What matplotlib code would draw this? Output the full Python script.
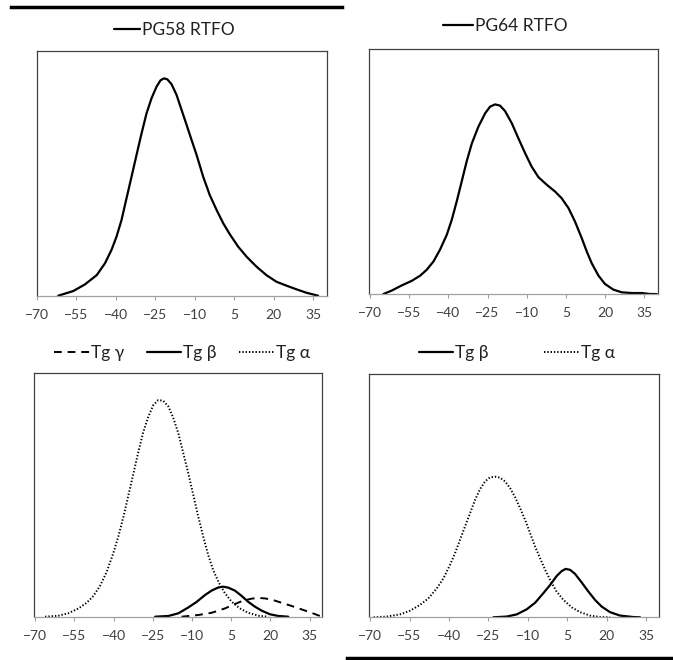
import numpy as np
from matplotlib import pyplot as plt
from matplotlib.lines import Line2D

plt.rcParams['font.family'] = ['Lato', 'DejaVu Sans']

# x ticks shared by every panel
ticks = [-70, -55, -40, -25, -10, 5, 20, 35]

# PG58 RTFO (top left), heights in % of plot height
pg58_x = [-61.8, -56.1, -51.7, -47.2, -44.1, -41.6, -39.7, -37.8, -35.9, -34.0,
          -32.1, -30.2, -28.3, -26.4, -24.5, -23.0, -21.7, -20.4, -18.8, -16.9,
          -15.0, -13.1, -11.2, -9.3, -6.8, -4.3, -1.7, 0.8, 3.3, 6.5,
          9.7, 13.4, 17.2, 21.0, 24.8, 28.6, 32.4, 36.8]
pg58_y = [0, 1.9, 4.6, 8.4, 13.2, 18.7, 24.1, 30.9, 39.8, 48.6,
          57.5, 66.3, 74.5, 80.7, 85.4, 88.0, 88.8, 88.4, 86.4, 82.0,
          75.9, 69.8, 63.6, 57.5, 48.6, 41.1, 35.0, 29.6, 25.1, 20.0,
          15.9, 11.9, 8.4, 5.7, 4.1, 2.6, 1.2, 0]

# PG64 RTFO (top right)
pg64_x = [-64.9, -61.7, -57.9, -54.0, -50.8, -48.3, -45.7, -43.2, -40.6, -38.7,
          -36.8, -34.9, -33.0, -31.0, -28.5, -25.9, -24.0, -22.1, -20.2, -18.3,
          -15.7, -13.2, -10.6, -8.1, -5.5, -2.3, 0.9, 3.4, 6.0, 8.5,
          11.1, 13.0, 14.9, 17.5, 20.0, 23.2, 26.4, 30.3, 34.1, 37.3, 39.8]
pg64_y = [0, 1.4, 3.5, 5.4, 7.5, 9.9, 13.3, 18.1, 24.2, 30.3,
          37.8, 45.9, 54.1, 61.5, 68.3, 73.8, 76.5, 77.4, 76.9, 74.7,
          69.7, 63.6, 57.5, 52.0, 47.7, 44.6, 41.8, 39.1, 35.1, 29.6,
          22.8, 17.4, 12.6, 7.5, 4.1, 1.8, 0.7, 0.4, 0.4, 0, 0]

# PG58 deconvolution (bottom left)
a58_x = [-66.2, -61.1, -57.3, -53.4, -50.3, -47.7, -45.2, -42.6, -40.1, -38.2,
         -36.2, -34.3, -32.4, -30.5, -28.6, -26.7, -24.8, -22.9, -21.0, -19.0,
         -17.1, -15.2, -13.3, -11.4, -9.5, -7.6, -5.7, -3.8, -1.9, 0.1,
         2.6, 5.2, 8.3, 11.5, 15.4, 19.2]
a58_y = [0, 0.4, 1.4, 3.4, 5.7, 8.5, 12.6, 18.4, 26.0, 32.8,
         41.0, 49.9, 58.7, 67.6, 75.8, 82.0, 86.7, 88.8, 88.5, 86.1,
         81.3, 75.1, 66.9, 58.7, 49.9, 41.0, 32.8, 25.3, 19.1, 14.3,
         9.6, 6.1, 3.4, 1.6, 0.4, 0]
b58_x = [-24.1, -19.0, -15.2, -11.4, -8.2, -5.0, -2.5, 0.1, 2.0, 3.9,
         6.4, 9.0, 11.5, 14.1, 16.6, 19.8, 23.0, 26.8]
b58_y = [0, 0.3, 1.4, 3.8, 6.1, 8.9, 10.7, 12.0, 12.3, 11.9,
         10.7, 8.5, 6.1, 4.1, 2.5, 1.0, 0.3, 0]
g58_x = [-14.0, -7.6, -2.5, 2.6, 6.4, 9.6, 12.8, 15.4, 17.9, 21.1,
         24.3, 28.1, 31.9, 35.7, 38.9]
g58_y = [0, 0.7, 1.6, 3.4, 5.2, 6.6, 7.4, 7.7, 7.5, 6.8,
         5.7, 4.4, 3.0, 1.6, 0.3]

# PG64 deconvolution (bottom right)
a64_x = [-68.7, -63.7, -58.6, -54.8, -51.0, -47.8, -44.6, -42.1, -39.6, -37.7,
         -35.8, -33.9, -32.0, -30.1, -28.2, -26.3, -24.4, -22.5, -20.6, -18.6,
         -16.7, -14.8, -12.9, -11.0, -9.1, -7.2, -5.3, -3.4, -1.5, 1.0,
         3.6, 6.7, 9.9, 13.7, 17.5, 21.3]
a64_y = [0, 0.3, 1.2, 2.7, 5.1, 7.8, 11.9, 16.0, 21.5, 26.3,
         31.8, 37.3, 42.7, 48.2, 52.6, 55.8, 57.5, 57.8, 57.4, 55.8,
         53.0, 49.3, 44.8, 40.0, 34.5, 29.0, 24.2, 19.5, 15.3, 10.5,
         7.1, 4.1, 2.1, 0.7, 0.1, 0]
b64_x = [-23.1, -18.0, -14.2, -10.4, -7.2, -4.1, -1.5, 1.0, 2.9, 4.4,
         6.1, 8.0, 10.5, 13.1, 15.6, 18.1, 21.3, 25.1, 30.2, 32.7]
b64_y = [0, 0.3, 1.2, 3.3, 6.0, 9.9, 13.3, 17.0, 19.0, 19.9,
         19.5, 17.8, 14.3, 10.5, 7.1, 4.4, 2.1, 0.7, 0.1, 0]

dotted = (0, (0.7, 1.0))
dashed = (0, (4, 3))

fig = plt.figure(figsize=(6.73, 6.60), dpi=100)

def setup(ax, xmax, xmin=-70):
    ax.set_xlim(xmin, xmax)
    ax.set_ylim(0, 100)
    ax.set_yticks([])
    ax.set_xticks(ticks)
    ax.tick_params(axis='x', direction='out', length=3, width=0.8,
                   color='#a0a0a0', labelcolor='#404040', labelsize=10, pad=6.5)
    for s in ax.spines.values():
        s.set_color('#404040')
        s.set_linewidth(0.9)
    ax.spines['bottom'].set_color('#a0a0a0')

kw = dict(color='black', lw=1.6, solid_joinstyle='round', solid_capstyle='round')
kd = dict(color='black', lw=1.4)

ax1 = fig.add_axes([0.0545, 0.552, 0.4314, 0.3708])
ax1.plot(pg58_x, pg58_y, label='PG58 RTFO', **kw)
setup(ax1, 40.2)

ax2 = fig.add_axes([0.5483, 0.5545, 0.4290, 0.3712])
ax2.plot(pg64_x, pg64_y, label='PG64 RTFO', **kw)
setup(ax2, 40.2, -70.4)

ax3 = fig.add_axes([0.0510, 0.0656, 0.4270, 0.3697])
ax3.plot(g58_x, g58_y, ls=dashed, label='Tg γ', **kd)
ax3.plot(b58_x, b58_y, label='Tg β', **kw)
ax3.plot(a58_x, a58_y, ls=dotted, label='Tg α', **kd)
setup(ax3, 39.6, -70.3)

ax4 = fig.add_axes([0.5487, 0.0647, 0.4305, 0.3686])
ax4.plot(b64_x, b64_y, label='Tg β', **kw)
ax4.plot(a64_x, a64_y, ls=dotted, label='Tg α', **kd)
setup(ax4, 39.9, -70.3)

legs = [(ax1, 0.473, 1.086, 1.5, 1.4),
        (ax2, 0.472, 1.092, 1.7, 1.4),
        (ax3, 0.514, 1.080, 2.0, 1.3),
        (ax4, 0.509, 1.088, 2.0, 3.2)]
for ax, lx, ly, hl, cs in legs:
    ax.legend(loc='center', bbox_to_anchor=(lx, ly), ncol=3,
              frameon=False, fontsize=12.5, handlelength=hl,
              handletextpad=0.1, columnspacing=cs, borderaxespad=0,
              borderpad=0, labelcolor='#202020')

# heavy rules at top left and bottom right
fig.add_artist(Line2D([11 / 673, 342 / 673], [1 - 7 / 660, 1 - 7 / 660],
                      color='black', lw=2.5))
fig.add_artist(Line2D([347 / 673, 1.0], [1 - 658 / 660, 1 - 658 / 660],
                      color='black', lw=2.5))

fig.savefig('out.png', dpi=100)
